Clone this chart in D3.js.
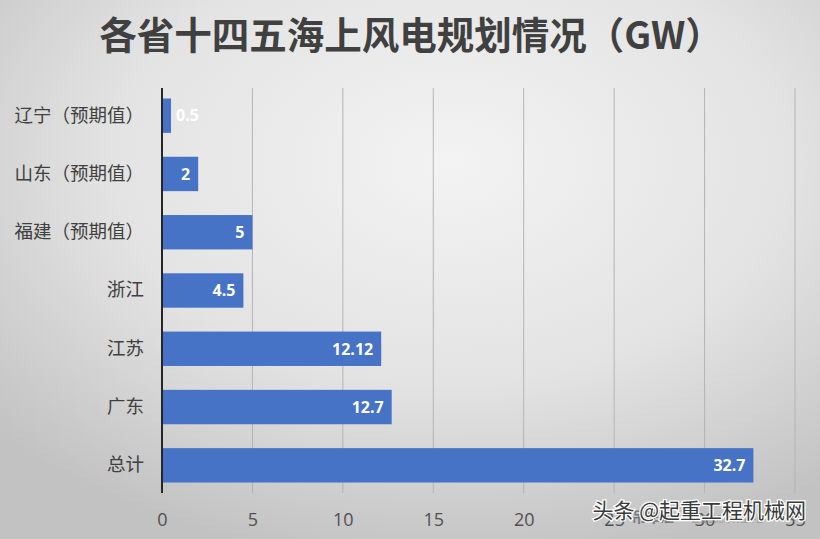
<!DOCTYPE html>
<html>
<head>
<meta charset="utf-8">
<script src="https://d3js.org/d3.v7.min.js"></script>
<style>
  body { margin: 0; }
  svg { display: block; font-family: "Noto Sans CJK SC", "Noto Sans", sans-serif; }
</style>
</head>
<body>
<div id="chart-area"></div>
<script>
// 各省十四五海上风电规划 (GW)
let provinces = ["辽宁（预期值）", "山东（预期值）", "福建（预期值）", "浙江", "江苏", "广东", "总计"];
let capacity = [0.5, 2, 5, 4.5, 12.12, 12.7, 32.7];
let labels = ["0.5", "2", "5", "4.5", "12.12", "12.7", "32.7"];
let xTicks = [0, 5, 10, 15, 20, 25, 30, 35];

let W = 820, H = 539;
let margin = { left: 162, top: 88, right: 25, bottom: 46 };
let width = W - margin.left - margin.right;
let height = H - margin.top - margin.bottom;

let svg = d3.select("#chart-area")
  .append("svg")
  .attr("width", W)
  .attr("height", H);

// background: soft grey radial gradient
let grad = svg.append("defs").append("radialGradient")
  .attr("id", "bg")
  .attr("cx", "55%").attr("cy", "30%").attr("r", "75%");
grad.append("stop").attr("offset", "0%").attr("stop-color", "#f3f3f3");
grad.append("stop").attr("offset", "55%").attr("stop-color", "#e3e3e3");
grad.append("stop").attr("offset", "100%").attr("stop-color", "#c2c2c2");
svg.append("rect").attr("width", W).attr("height", H).attr("fill", "url(#bg)");

svg.append("text")
  .attr("x", 411)
  .attr("y", 49)
  .attr("text-anchor", "middle")
  .attr("font-size", "37.5px")
  .attr("font-weight", "bold")
  .attr("fill", "#404040")
  .text("各省十四五海上风电规划情况（GW）");

let g = svg.append("g")
  .attr("transform", `translate(${margin.left}, ${margin.top})`);

let x = d3.scaleLinear()
  .domain([0, 35])
  .range([0, width]);

let y = d3.scaleBand()
  .domain(provinces)
  .range([0, height])
  .paddingInner(0.41)
  .paddingOuter(0.18);

// gridlines
g.selectAll(".grid")
  .data(xTicks.slice(1))
  .enter().append("line")
  .attr("class", "grid")
  .attr("x1", d => x(d)).attr("x2", d => x(d))
  .attr("y1", 0).attr("y2", height)
  .attr("stroke", "#b4b4b4")
  .attr("stroke-width", 1);

let xAxis = d3.axisBottom(x)
  .tickValues(xTicks)
  .tickSize(0)
  .tickPadding(20);
let xg = g.append("g")
  .attr("transform", `translate(0, ${height})`)
  .call(xAxis);
xg.select(".domain").remove();
xg.selectAll("text")
  .attr("font-size", "18px")
  .attr("fill", "#505050")
  .attr("font-family", "'Open Sans', 'Noto Sans', sans-serif");

let yAxis = d3.axisLeft(y)
  .tickSize(0)
  .tickPadding(18);
let yg = g.append("g").call(yAxis);
yg.select(".domain").remove();
yg.selectAll("text")
  .attr("font-size", "18.5px")
  .attr("fill", "#404040")
  .attr("font-family", "'Noto Sans CJK SC', sans-serif");

g.selectAll(".bar")
  .data(capacity)
  .enter().append("rect")
  .attr("class", "bar")
  .attr("x", x(0))
  .attr("y", (d, i) => y(provinces[i]))
  .attr("width", d => x(d) - x(0))
  .attr("height", y.bandwidth())
  .attr("fill", "#4673c5");

g.selectAll(".val")
  .data(capacity)
  .enter().append("text")
  .attr("class", "val")
  .attr("x", d => x(d) < 20 ? x(d) + 5 : x(d) - 8)
  .attr("y", (d, i) => y(provinces[i]) + y.bandwidth() / 2)
  .attr("dy", "0.36em")
  .attr("text-anchor", d => x(d) < 20 ? "start" : "end")
  .attr("font-size", "16px")
  .attr("font-weight", "bold")
  .attr("fill", "#ffffff")
  .attr("font-family", "'Open Sans', 'Noto Sans', sans-serif")
  .text((d, i) => labels[i]);

// vertical axis line
g.append("line")
  .attr("x1", 0).attr("x2", 0)
  .attr("y1", 0).attr("y2", height)
  .attr("stroke", "#262626")
  .attr("stroke-width", 2);

// watermark
let wm = svg.append("g");
wm.append("text")
  .attr("x", 632).attr("y", 522)
  .attr("font-size", "14px")
  .attr("fill", "#7a7a7a")
  .attr("font-weight", "bold")
  .text("吊车汇");
wm.append("text")
  .attr("x", 692).attr("y", 522)
  .attr("font-size", "8px")
  .attr("fill", "#8a8a8a")
  .text("起重机吊车行业平台");
wm.append("text")
  .attr("x", 806).attr("y", 518)
  .attr("text-anchor", "end")
  .attr("font-size", "21px")
  .attr("fill", "#3a3a3a")
  .attr("stroke", "#ffffff")
  .attr("stroke-width", 2.5)
  .attr("paint-order", "stroke")
  .text("头条 @起重工程机械网");
</script>
</body>
</html>
